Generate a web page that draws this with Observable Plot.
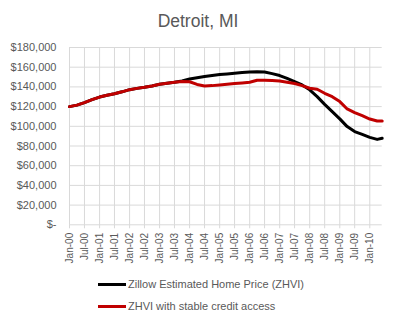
<!DOCTYPE html>
<html>
<head>
<meta charset="utf-8">
<script src="https://cdn.jsdelivr.net/npm/d3@7"></script>
<script src="https://cdn.jsdelivr.net/npm/@observablehq/plot@0.6"></script>
<style>
  body { margin: 0; background: #fff; font-family: "Liberation Sans", Arial, sans-serif; color: #595959; }
  #wrap { position: relative; width: 396px; height: 322px; overflow: hidden; }
  #title { position: absolute; left: 0; top: 13px; width: 396px; text-align: center; font-size: 17.5px; line-height: 17.5px; }
  #chart { position: absolute; left: 0; top: 40px; }
  .sw { position: absolute; left: 98px; width: 28px; height: 3px; }
  .lt { position: absolute; left: 128px; font-size: 11px; line-height: 12px; white-space: nowrap; }
</style>
</head>
<body>
<div id="wrap">
  <div id="title">Detroit, MI</div>
  <div id="chart"></div>
  <div id="legend"></div>
</div>
<script>
const dates = [
  "2000-01","2000-04","2000-07","2000-10",
  "2001-01","2001-04","2001-07","2001-10",
  "2002-01","2002-04","2002-07","2002-10",
  "2003-01","2003-04","2003-07","2003-10",
  "2004-01","2004-04","2004-07","2004-10",
  "2005-01","2005-04","2005-07","2005-10",
  "2006-01","2006-04","2006-07","2006-10",
  "2007-01","2007-04","2007-07","2007-10",
  "2008-01","2008-04","2008-07","2008-10",
  "2009-01","2009-04","2009-07","2009-10",
  "2010-01","2010-04","2010-06"
];
const zhvi = [
  120000,121500,124000,127000,
  129700,131500,133100,135000,
  137200,138500,139600,141000,
  142700,143800,144700,146000,
  148000,149300,150500,151500,
  152500,153200,153900,154500,
  155200,155400,155200,153500,
  151500,148700,145400,142000,
  137000,130100,122300,114900,
  107500,99700,94600,91800,
  88800,86700,87800
];
const stableCredit = [
  120000,121500,124000,127000,
  129700,131500,133100,135000,
  137200,138500,139600,141000,
  142700,143800,144700,145500,
  145200,142500,141000,141300,
  142000,142700,143400,144000,
  144700,146700,146700,146500,
  146000,144800,143400,141300,
  138600,137600,133500,130100,
  125100,117600,113900,110800,
  107400,105400,105400
];
const seriesNames = ["Zillow Estimated Home Price (ZHVI)", "ZHVI with stable credit access"];
const seriesColors = ["#000000", "#c00000"];
const xTickLabels = ["Jan-00","Jul-00","Jan-01","Jul-01","Jan-02","Jul-02","Jan-03","Jul-03","Jan-04","Jul-04",
  "Jan-05","Jul-05","Jan-06","Jul-06","Jan-07","Jul-07","Jan-08","Jul-08","Jan-09","Jul-09","Jan-10"];
const yTicks = [0,20000,40000,60000,80000,100000,120000,140000,160000,180000];

const parseMonth = d3.utcParse("%Y-%m");
const parseTick = d3.utcParse("%b-%y");
const xTickDates = xTickLabels.map(parseTick);
const tickLabelMap = new Map(xTickDates.map((d, i) => [+d, xTickLabels[i]]));

const rows = [];
dates.forEach((d, i) => {
  rows.push({date: parseMonth(d), value: zhvi[i], series: seriesNames[0]});
});
dates.forEach((d, i) => {
  rows.push({date: parseMonth(d), value: stableCredit[i], series: seriesNames[1]});
});

const yFmt = v => v === 0 ? "$-" : "$" + d3.format(",")(v);

const chart = Plot.plot({
  width: 396,
  height: 232,
  marginTop: 7,
  marginBottom: 47.7,
  marginLeft: 69,
  marginRight: 14.3,
  style: {fontFamily: "'Liberation Sans', Arial, sans-serif", color: "#595959", background: "#fff"},
  x: {type: "utc", domain: [parseMonth(dates[0]), parseMonth(dates[dates.length - 1])]},
  y: {domain: [0, 180000]},
  color: {domain: seriesNames, range: seriesColors},
  marks: [
    Plot.gridY(yTicks, {stroke: "#d9d9d9", strokeOpacity: 1}),
    Plot.gridX(xTickDates, {stroke: "#d9d9d9", strokeOpacity: 1}),
    Plot.axisY({ticks: yTicks, tickFormat: yFmt, tickSize: 0, tickPadding: 13, fontSize: 11, label: null}),
    Plot.axisX({ticks: xTickDates, tickFormat: d => tickLabelMap.get(+d), tickRotate: -90, tickSize: 4,
      tickPadding: 4, stroke: "#d9d9d9", strokeOpacity: 1, fontSize: 10, label: null}),
    Plot.line(rows.filter(r => r.series === seriesNames[0]), {x: "date", y: "value", stroke: "series", strokeWidth: 3}),
    Plot.line(rows.filter(r => r.series === seriesNames[1]), {x: "date", y: "value", stroke: "series", strokeWidth: 3})
  ]
});
document.getElementById("chart").appendChild(chart);

const legend = document.getElementById("legend");
const legendY = [284, 306];
seriesNames.forEach((name, i) => {
  const sw = document.createElement("div");
  sw.className = "sw";
  sw.style.top = (legendY[i] - 1.5) + "px";
  sw.style.background = seriesColors[i];
  legend.appendChild(sw);
  const t = document.createElement("div");
  t.className = "lt";
  t.style.top = (legendY[i] - 6.5) + "px";
  t.textContent = name;
  legend.appendChild(t);
});
</script>
</body>
</html>
